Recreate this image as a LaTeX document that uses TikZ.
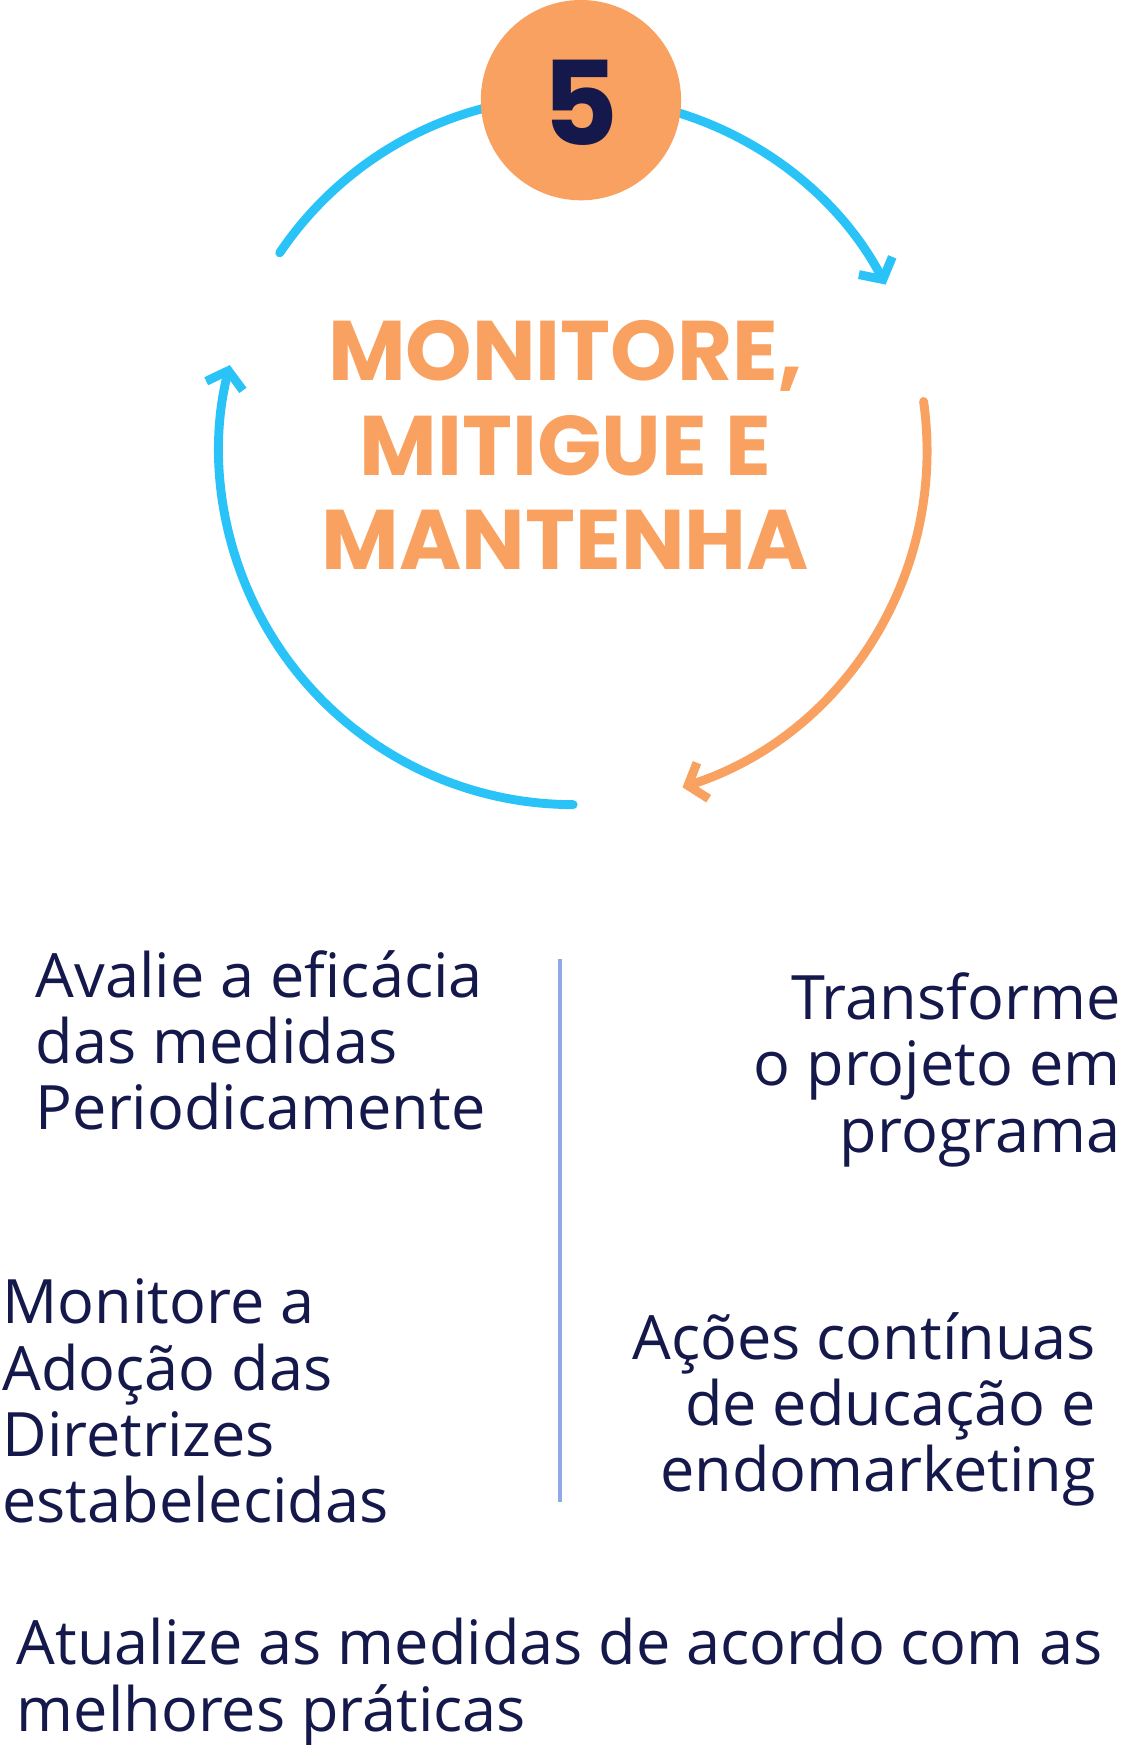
\documentclass[tikz,border=0pt]{standalone}
\usepackage{fontspec}
\setmainfont{Open Sans}
\newfontfamily\pop{Poppins}
\usetikzlibrary{arrows.meta}
\definecolor{cblue}{HTML}{29C3F8}
\definecolor{corange}{HTML}{F9A160}
\definecolor{cnavy}{HTML}{15184B}
\definecolor{cline}{HTML}{8FA8E8}
\begin{document}
\begin{tikzpicture}[x=1pt,y=-1pt,
  arc/.style={line width=8pt,line cap=round},
  tip/.style={-{Straight Barb[length=14pt,width=34pt,line width=8pt]}},
  body/.style={inner sep=0pt,text=cnavy,font=\fontsize{55}{59.5}\selectfont},
  head/.style={text=corange,font=\pop\bfseries\fontsize{76}{85}\selectfont,align=center,inner sep=0pt}]
\useasboundingbox (0,0) rectangle (1010,1568);
\draw[arc,cblue,tip] (515,723) arc[start angle=90,end angle=194,radius=318];
\draw[arc,cblue] ([shift={(-146:318)}]515,405) arc[start angle=-146,end angle=-104,radius=318];
\draw[arc,cblue,tip] ([shift={(-80:318)}]515,405) arc[start angle=-80,end angle=-28,radius=318];
\draw[arc,corange,tip] ([shift={(-8:318)}]515,405) arc[start angle=-8,end angle=72,radius=318];
\node[circle,fill=corange,minimum size=180pt,inner sep=0pt] (five) at (522,90) {};
\node[text=cnavy,font=\pop\bfseries\fontsize{105}{105}\selectfont,inner sep=0pt] (num) at (522,92) {5};
\node[head] (title) at (508,400) {MONITORE,\\MITIGUE E\\MANTENHA};
\draw[line width=4pt,cline] (503,862) coordinate (l1) -- (503,1350) coordinate (l2);
\node[body,anchor=north west,align=left] (t1) at (32,854) {Avalie a eficácia\\das medidas\\Periodicamente};
\node[body,anchor=north east,align=right] (t2) at (1007,874) {Transforme\\o projeto em\\programa};
\node[body,anchor=north west,align=left] (t3) at (2,1149) {Monitore a\\Adoção das\\Diretrizes\\estabelecidas};
\node[body,anchor=north east,align=right] (t4) at (985,1179) {Ações contínuas\\de educação e\\endomarketing};
\node[body,anchor=north west,align=left] (t5) at (15,1454) {Atualize as medidas de acordo com as\\melhores práticas};
\end{tikzpicture}
\end{document}
